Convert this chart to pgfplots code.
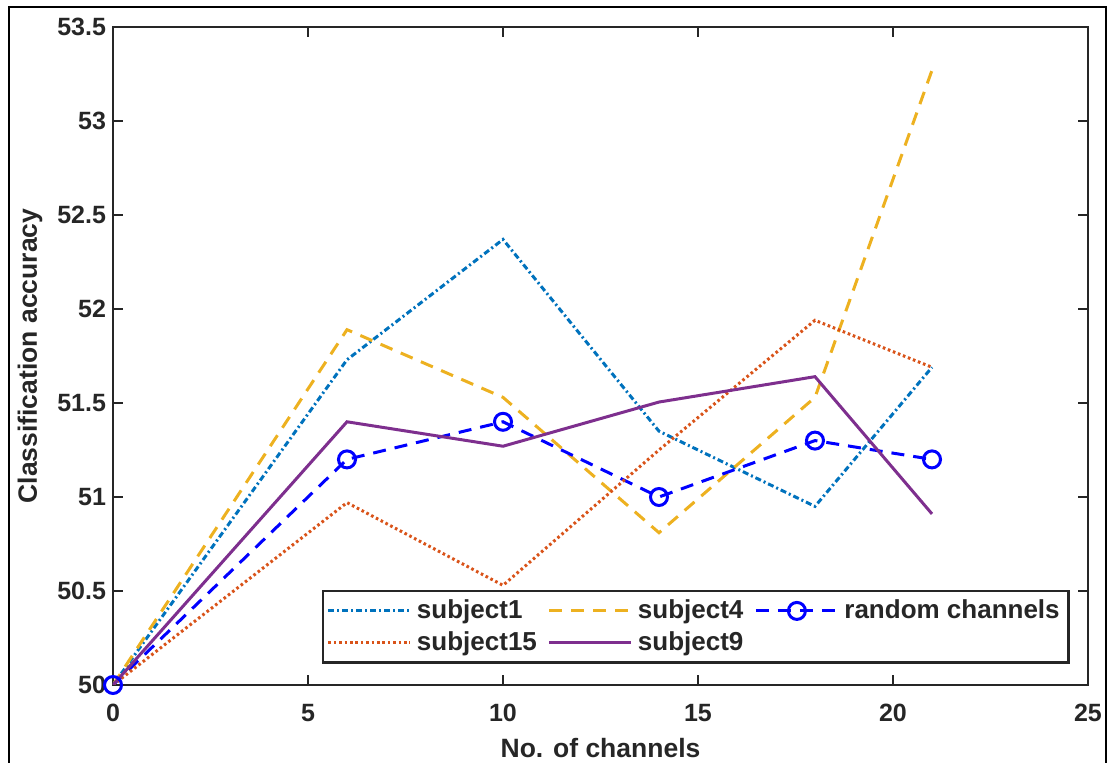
\documentclass[border=0pt]{standalone}
\usepackage{fontspec}
\setmainfont{Liberation Sans}
\usepackage{pgfplots}
\pgfplotsset{compat=1.18}
\definecolor{cOne}{RGB}{0,114,189}
\definecolor{cFour}{RGB}{237,177,32}
\definecolor{cFifteen}{RGB}{217,83,25}
\definecolor{cNine}{RGB}{126,47,142}
\definecolor{axgray}{RGB}{38,38,38}
\begin{document}
\begin{tikzpicture}
\useasboundingbox (-56.5pt,-39pt) rectangle (501pt,342.5pt);
\draw[line width=0.8pt] (-52pt,-60pt) rectangle (496.5pt,339pt);
\begin{axis}[
  at={(0pt,0pt)}, anchor=south west,
  scale only axis, width=487.5pt, height=329pt,
  xmin=0, xmax=25, ymin=50, ymax=53.5,
  xtick={0,5,10,15,20,25},
  xticklabels={0,5,10,15,20,25},
  ytick={50,50.5,51,51.5,52,52.5,53,53.5},
  yticklabels={50,50.5,51,51.5,52,52.5,53,53.5},
  tick align=inside, tick pos=both, major tick length=5pt,
  axis line style={line width=1.4pt, draw=axgray},
  every tick/.style={line width=1.4pt, draw=axgray},
  tick label style={font=\fontsize{12.5}{14}\selectfont\bfseries, text=axgray},
  xticklabel style={yshift=-6pt},
  xlabel={No. of channels},
  ylabel={Classification accuracy},
  label style={font=\fontsize{13.25}{15}\selectfont\bfseries, text=axgray},
  xlabel style={at={(axis description cs:0.5,-0.0957)}, anchor=center},
  ylabel style={at={(axis description cs:-0.0851,0.5)}, anchor=center},
  legend columns=3,
  legend cell align=left,
  legend style={at={(axis description cs:0.98154,0.03191)}, anchor=south east,
    draw=axgray, line width=1.3pt, inner sep=2pt,
    font=\fontsize{13}{15}\selectfont\bfseries, text=axgray,
    nodes={inner sep=2.5pt},
    /tikz/every even column/.append style={column sep=3pt}},
  legend image code/.code={\draw[mark repeat=2,mark phase=2,#1] plot coordinates {(0pt,0pt) (20.5pt,0pt) (41pt,0pt)};},
]
\addplot[cOne, line width=1.5pt, dash pattern=on 3pt off 1.5pt on 1pt off 1.5pt] coordinates {
  (0,50) (6,51.73) (10,52.37) (14,51.35) (18,50.95) (21,51.69)};
\addlegendentry{subject1}
\addplot[cFour, line width=1.5pt, dash pattern=on 6.5pt off 4.5pt] coordinates {
  (0,50) (6,51.89) (10,51.53) (14,50.81) (18,51.53) (21,53.27)};
\addlegendentry{subject4}
\addplot[blue, line width=1.5pt, dash pattern=on 6.5pt off 4.5pt, mark=o, mark size=4.25pt, mark options={solid}] coordinates {
  (0,50) (6,51.2) (10,51.4) (14,51.0) (18,51.3) (21,51.2)};
\addlegendentry{random channels}
\addplot[cFifteen, line width=1.5pt, dash pattern=on 1.3pt off 1.4pt] coordinates {
  (0,50) (6,50.97) (10,50.53) (14,51.25) (18,51.94) (21,51.69)};
\addlegendentry{subject15}
\addplot[cNine, line width=1.5pt] coordinates {
  (0,50) (6,51.40) (10,51.27) (14,51.505) (18,51.64) (21,50.91)};
\addlegendentry{subject9}
\end{axis}
\end{tikzpicture}
\end{document}
